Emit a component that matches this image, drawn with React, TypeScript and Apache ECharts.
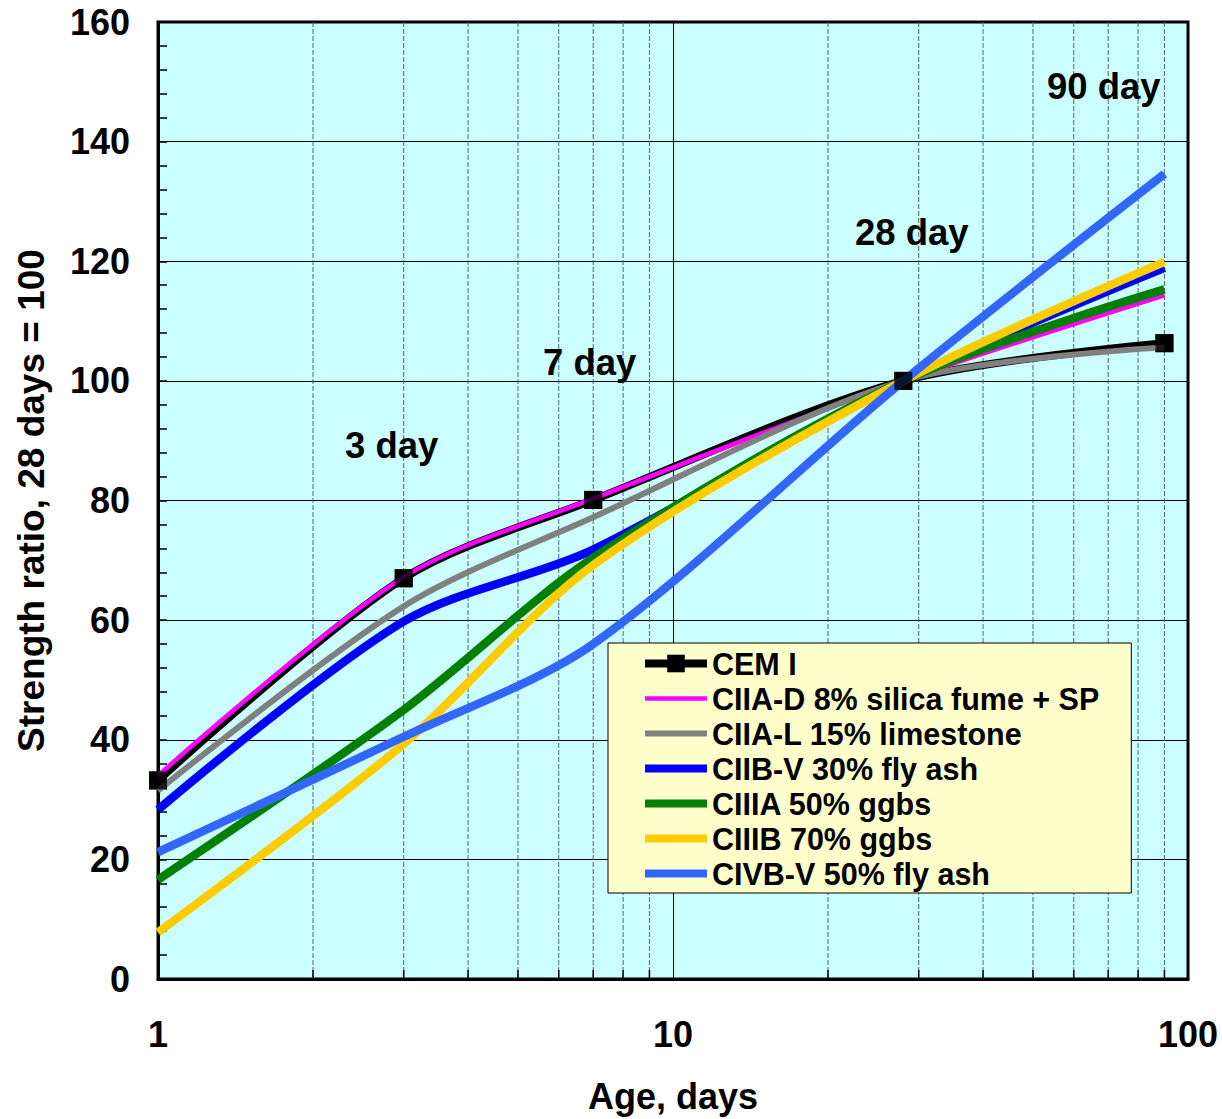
import React, { useEffect, useRef } from "react";
import * as echarts from "echarts";

const days = [1, 3, 7, 28, 90];
const names = [
  "CEM I",
  "CIIA-D 8% silica fume + SP",
  "CIIA-L 15% limestone",
  "CIIB-V 30% fly ash",
  "CIIIA 50% ggbs",
  "CIIIB 70% ggbs",
  "CIVB-V 50% fly ash",
];
const cem1 = [33.2, 67, 80.1, 100, 106.3];
const ciiaD = [34, 67.2, 80.3, 100, 114.3];
const ciiaL = [31.5, 62.3, 77.2, 100, 105.6];
const ciibV = [28.3, 59.8, 71.8, 100, 118.9];
const ciiia = [16.6, 45, 70.4, 100, 115.3];
const ciiib = [7.8, 39.3, 69.2, 100, 119.9];
const civbV = [21.2, 40.5, 56, 100, 134.6];
const colors = ["#000000", "#FF00FF", "#808080", "#0000FF", "#008000", "#FFCC00", "#3366FF"];
const widths = [8, 4.5, 6, 8.5, 8.5, 8.5, 8.5];
const legendWidths = [8, 4.5, 6, 8, 8, 8, 8];
const minorDays = [2, 3, 4, 5, 6, 7, 8, 9, 20, 30, 40, 50, 60, 70, 80, 90];

const FONT = "'Liberation Sans', Arial, sans-serif";

export default function App() {
  const ref = useRef<HTMLDivElement>(null);
  useEffect(() => {
    if (!ref.current) return;
    const chart = echarts.init(ref.current, undefined, { renderer: "svg" });
    const all = [cem1, ciiaD, ciiaL, ciibV, ciiia, ciiib, civbV];
    const lineSeries = all.map((vals, i) => ({
      name: names[i],
      type: "line",
      data: days.map((d, j) => [d, vals[j]]),
      smooth: 0.3,
      symbol: i === 0 ? "rect" : "none",
      symbolSize: 18,
      showSymbol: i === 0,
      color: colors[i],
      itemStyle: { color: colors[i] },
      lineStyle: { color: colors[i], width: widths[i] },
      z: 3 + i * 0.01,
    }));
    chart.setOption({
      animation: false,
      backgroundColor: "#ffffff",
      textStyle: { fontFamily: FONT },
      grid: {
        left: 158,
        top: 22,
        right: 34,
        bottom: 137,
        show: true,
        backgroundColor: "#CCFFFF",
        borderColor: "#000",
        borderWidth: 3,
      },
      xAxis: {
        type: "log",
        logBase: 10,
        min: 1,
        max: 100,
        name: "Age, days",
        nameLocation: "middle",
        nameGap: 99,
        nameTextStyle: { fontSize: 36, fontWeight: "bold", color: "#000", fontFamily: FONT },
        axisLine: { show: true, lineStyle: { color: "#000", width: 3 } },
        axisTick: { show: false },
        axisLabel: { fontSize: 36, fontWeight: "bold", color: "#000", margin: 37, fontFamily: FONT },
        splitLine: { show: true, lineStyle: { color: "#000", width: 1 } },
      },
      yAxis: {
        type: "value",
        min: 0,
        max: 160,
        interval: 20,
        name: "Strength ratio, 28 days = 100",
        nameLocation: "middle",
        nameGap: 108,
        nameTextStyle: { fontSize: 37, fontWeight: "bold", color: "#000", fontFamily: FONT },
        axisLine: { show: true, lineStyle: { color: "#000", width: 3 } },
        axisTick: { show: true, inside: true, length: 9, lineStyle: { color: "#000", width: 1.5 } },
        minorTick: { show: true, splitNumber: 5, length: 9, lineStyle: { color: "#000", width: 1.5 } },
        axisLabel: { fontSize: 36, fontWeight: "bold", color: "#000", margin: 28, fontFamily: FONT },
        splitLine: { show: true, lineStyle: { color: "#000", width: 1 } },
      },
      legend: {
        data: names.map((n, i) => ({
          name: n,
          itemStyle: i === 0 ? { color: "#000" } : { opacity: 0 },
          lineStyle: { color: colors[i], width: legendWidths[i] },
        })),
        orient: "vertical",
        left: 608,
        top: 643,
        itemWidth: 62,
        itemHeight: 22,
        itemGap: 4,
        padding: [5, 32, 4, 33],
        backgroundColor: "#FFFFCC",
        borderColor: "#000",
        borderWidth: 1,
        selectedMode: false,
        textStyle: { fontSize: 30.5, fontWeight: "bold", color: "#000", fontFamily: FONT, lineHeight: 30 },
      },
      graphic: [
        { type: "text", left: 345, top: 427, style: { text: "3 day", font: `bold 36.5px ${FONT}`, fill: "#000" }, z: 50 },
        { type: "text", left: 543, top: 344, style: { text: "7 day", font: `bold 36.5px ${FONT}`, fill: "#000" }, z: 50 },
        { type: "text", left: 855, top: 214, style: { text: "28 day", font: `bold 36.5px ${FONT}`, fill: "#000" }, z: 50 },
        { type: "text", left: 1047, top: 68, style: { text: "90 day", font: `bold 36.5px ${FONT}`, fill: "#000" }, z: 50 },
      ],
      series: [
        {
          type: "custom",
          name: "minorGrid",
          z: 1,
          silent: true,
          data: minorDays.map((d) => [d, 0]),
          encode: { x: 0, y: 1 },
          renderItem: (params: any, api: any) => {
            const x = api.value(0);
            const p0 = api.coord([x, 0]);
            const p1 = api.coord([x, 160]);
            return {
              type: "group",
              children: [
                {
                  type: "line",
                  shape: { x1: p0[0], y1: p0[1], x2: p1[0], y2: p1[1] },
                  style: { stroke: "#4a6a6a", lineWidth: 1, lineDash: [5, 2] },
                },
                {
                  type: "line",
                  shape: { x1: p0[0], y1: p0[1], x2: p0[0], y2: p0[1] - 9 },
                  style: { stroke: "#000", lineWidth: 1.5 },
                },
              ],
            };
          },
        },
        ...lineSeries,
        {
          type: "scatter",
          name: "CEM I markers",
          data: days.map((d, j) => [d, cem1[j]]),
          symbol: "rect",
          symbolSize: 18,
          itemStyle: { color: "#000" },
          z: 10,
          silent: true,
        },
      ],
    });
    return () => chart.dispose();
  }, []);
  return (
    <div
      ref={ref}
      style={{ position: "fixed", left: 0, top: 0, width: 1222, height: 1119 }}
    />
  );
}
